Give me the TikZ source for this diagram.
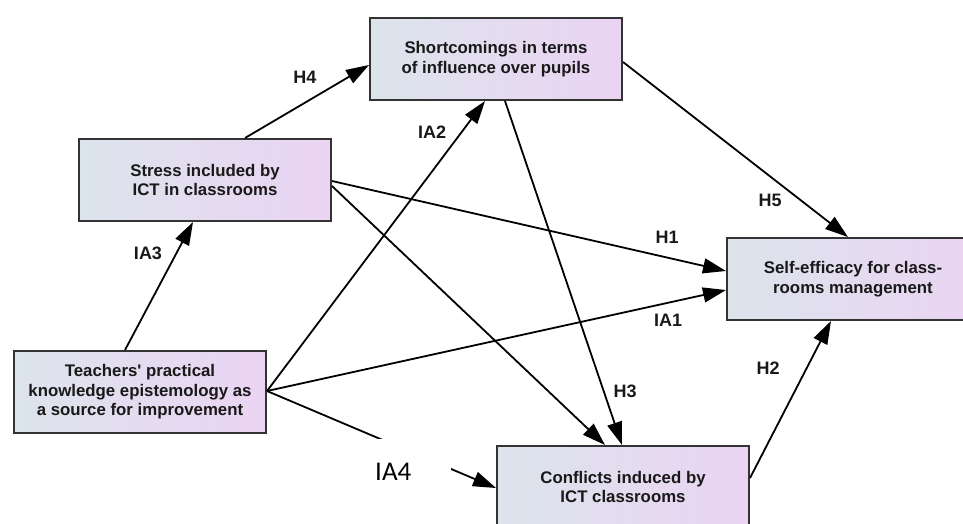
\documentclass[tikz,border=0pt]{standalone}
\usepackage{fontspec}
\setmainfont{Liberation Sans}
\newfontfamily\calfont{Carlito}
\usetikzlibrary{arrows.meta}

\definecolor{boxleft}{HTML}{DCE4EC}
\definecolor{boxright}{HTML}{EBD4F3}

\begin{document}
\begin{tikzpicture}[
    x=1pt, y=-1pt,
    >={Triangle[length=23pt,width=15pt]},
    construct/.style={draw=black!80, line width=2pt, left color=boxleft,
                      right color=boxright, align=center, minimum width=252pt,
                      minimum height=82pt, text=black!90,
                      font=\fontsize{16.8}{19.5}\selectfont\bfseries},
    conn/.style={->, line width=1.8pt, draw=black},
    hyp/.style={font=\fontsize{18}{20}\selectfont\bfseries, text=black!90},
    ialbl/.style={font=\calfont\fontsize{27}{30}\selectfont, fill=white,
                  text width=76pt, align=left, inner xsep=0pt, inner ysep=24pt},
  ]

  \clip (0,0) rectangle (963,523);

  \node[construct] (short) at (496,59)  {Shortcomings in terms\\of influence over pupils};
  \node[construct] (stress) at (205,180) {Stress included by\\ICT in classrooms};
  \node[construct] (teach) at (140,392) {Teachers\textquotesingle\ practical\\knowledge epistemology as\\a source for improvement};
  \node[construct] (self) at (853,279) {Self-efficacy for class-\\rooms management};
  \node[construct] (conf) at (623,487) {Conflicts induced by\\ICT classrooms};

  % paths from the source construct
  \draw[conn] ([xshift=-15pt]teach.north) -- ([xshift=-12pt]stress.south);
  \draw[conn] ([yshift=1pt]teach.east) -- ([xshift=-11pt]short.south);
  \draw[conn] ([yshift=1pt]teach.east) -- ([yshift=-11pt]self.west);
  \draw[conn] ([yshift=1pt]teach.east) -- ([yshift=-1pt]conf.west);

  % hypotheses
  \draw[conn] ([xshift=40pt]stress.north) -- ([yshift=-6pt]short.west);
  \draw[conn] ([yshift=-1pt]stress.east) -- ([yshift=8pt]self.west);
  \draw[conn] ([yshift=-6pt]stress.east) -- ([xshift=-18pt]conf.north);
  \draw[conn] ([xshift=9pt]short.south) -- ([xshift=-1pt]conf.north);
  \draw[conn] ([yshift=-3pt]short.east) -- ([xshift=-5pt]self.north);
  \draw[conn] ([yshift=9pt]conf.east) -- ([xshift=-22pt]self.south);

  \node[hyp] (lh4) at (305,77) {H4};
  \node[hyp] (lia3) at (148,253) {IA3};
  \node[hyp] (lia2) at (432,132) {IA2};
  \node[hyp] (lh1) at (667,237) {H1};
  \node[hyp] (lia1) at (668,320) {IA1};
  \node[hyp] (lh5) at (770,200) {H5};
  \node[hyp] (lh3) at (625,391) {H3};
  \node[hyp] (lh2) at (768,368) {H2};
  \node[ialbl, anchor=west] (lia4) at (375,472) {IA4};

\end{tikzpicture}
\end{document}
